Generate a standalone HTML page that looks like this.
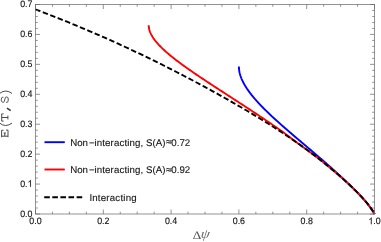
<!DOCTYPE html>
<html><head><meta charset="utf-8"><style>
html,body{margin:0;padding:0;background:#fff;}
svg{display:block;font-family:"Liberation Sans",sans-serif;}
.tx{will-change:opacity;opacity:0.999;text-rendering:geometricPrecision;}
</style></head><body>
<svg width="381" height="242" viewBox="0 0 381 242">
<rect width="381" height="242" fill="#fff"/>
<g fill="none" stroke-linejoin="round">
<path d="M238.90,66.50 L238.90,66.87 L238.91,67.24 L238.92,67.61 L238.94,67.98 L238.97,68.35 L238.99,68.72 L239.03,69.09 L239.07,69.45 L239.11,69.82 L239.16,70.19 L239.21,70.56 L239.27,70.93 L239.33,71.30 L239.40,71.67 L239.47,72.04 L239.55,72.41 L239.63,72.78 L239.72,73.15 L239.81,73.52 L239.91,73.89 L240.01,74.26 L240.11,74.62 L240.22,74.99 L240.33,75.36 L240.45,75.73 L240.57,76.10 L240.70,76.47 L240.83,76.84 L240.96,77.21 L241.10,77.58 L241.25,77.95 L241.39,78.32 L241.54,78.69 L241.70,79.06 L241.86,79.43 L242.02,79.79 L242.18,80.16 L242.35,80.53 L242.53,80.90 L242.71,81.27 L242.89,81.64 L243.07,82.01 L243.26,82.38 L243.45,82.75 L243.65,83.12 L243.85,83.49 L244.05,83.86 L244.26,84.23 L244.47,84.60 L244.68,84.96 L244.90,85.33 L245.11,85.70 L245.34,86.07 L245.56,86.44 L245.79,86.81 L246.03,87.18 L246.26,87.55 L246.50,87.92 L246.74,88.29 L246.99,88.66 L247.23,89.03 L247.49,89.40 L247.74,89.77 L248.00,90.14 L248.26,90.50 L248.52,90.87 L248.78,91.24 L249.05,91.61 L249.32,91.98 L249.60,92.35 L249.87,92.72 L250.15,93.09 L250.43,93.46 L250.72,93.83 L251.01,94.20 L251.30,94.57 L251.59,94.94 L251.88,95.31 L252.18,95.67 L252.48,96.04 L252.78,96.41 L253.08,96.78 L253.39,97.15 L253.70,97.52 L254.01,97.89 L254.32,98.26 L254.64,98.63 L254.96,99.00 L255.28,99.37 L255.60,99.74 L255.93,100.11 L256.25,100.48 L256.58,100.84 L256.91,101.21 L257.25,101.58 L257.58,101.95 L257.92,102.32 L258.26,102.69 L258.60,103.06 L258.94,103.43 L259.28,103.80 L259.63,104.17 L259.98,104.54 L260.33,104.91 L260.68,105.28 L261.04,105.65 L261.39,106.02 L261.75,106.38 L262.11,106.75 L262.47,107.12 L262.83,107.49 L263.19,107.86 L263.56,108.23 L263.93,108.60 L264.29,108.97 L264.67,109.34 L265.04,109.71 L265.41,110.08 L265.78,110.45 L266.16,110.82 L266.54,111.19 L266.92,111.55 L267.30,111.92 L267.68,112.29 L268.06,112.66 L268.45,113.03 L268.83,113.40 L269.22,113.77 L269.61,114.14 L270.00,114.51 L270.39,114.88 L270.78,115.25 L271.17,115.62 L271.57,115.99 L271.96,116.36 L272.36,116.72 L272.76,117.09 L273.16,117.46 L273.56,117.83 L273.96,118.20 L274.36,118.57 L274.76,118.94 L275.17,119.31 L275.57,119.68 L275.98,120.05 L276.38,120.42 L276.79,120.79 L277.20,121.16 L277.61,121.53 L278.02,121.89 L278.43,122.26 L278.84,122.63 L279.26,123.00 L279.67,123.37 L280.09,123.74 L280.50,124.11 L280.92,124.48 L281.33,124.85 L281.75,125.22 L282.17,125.59 L282.59,125.96 L283.01,126.33 L283.43,126.70 L283.85,127.07 L284.27,127.43 L284.69,127.80 L285.12,128.17 L285.54,128.54 L285.96,128.91 L286.39,129.28 L286.81,129.65 L287.24,130.02 L287.66,130.39 L288.09,130.76 L288.52,131.13 L288.95,131.50 L289.37,131.87 L289.80,132.24 L290.23,132.60 L290.66,132.97 L291.09,133.34 L291.52,133.71 L291.95,134.08 L292.38,134.45 L292.81,134.82 L293.24,135.19 L293.67,135.56 L294.11,135.93 L294.54,136.30 L294.97,136.67 L295.40,137.04 L295.84,137.41 L296.27,137.77 L296.70,138.14 L297.14,138.51 L297.57,138.88 L298.00,139.25 L298.44,139.62 L298.87,139.99 L299.31,140.36 L299.74,140.73 L300.18,141.10 L300.61,141.47 L301.04,141.84 L301.48,142.21 L301.91,142.58 L302.35,142.94 L302.78,143.31 L303.22,143.68 L303.65,144.05 L304.09,144.42 L304.53,144.79 L304.96,145.16 L305.40,145.53 L305.83,145.90 L306.27,146.27 L306.70,146.64 L307.14,147.01 L307.57,147.38 L308.01,147.75 L308.44,148.12 L308.87,148.48 L309.31,148.85 L309.74,149.22 L310.18,149.59 L310.61,149.96 L311.05,150.33 L311.48,150.70 L311.91,151.07 L312.35,151.44 L312.78,151.81 L313.21,152.18 L313.65,152.55 L314.08,152.92 L314.51,153.29 L314.94,153.65 L315.37,154.02 L315.81,154.39 L316.24,154.76 L316.67,155.13 L317.10,155.50 L317.53,155.87 L317.96,156.24 L318.39,156.61 L318.82,156.98 L319.25,157.35 L319.68,157.72 L320.10,158.09 L320.53,158.46 L320.96,158.82 L321.39,159.19 L321.81,159.56 L322.24,159.93 L322.67,160.30 L323.09,160.67 L323.52,161.04 L323.94,161.41 L324.37,161.78 L324.79,162.15 L325.21,162.52 L325.64,162.89 L326.06,163.26 L326.48,163.63 L326.90,163.99 L327.32,164.36 L327.74,164.73 L328.16,165.10 L328.58,165.47 L329.00,165.84 L329.42,166.21 L329.84,166.58 L330.25,166.95 L330.67,167.32 L331.09,167.69 L331.50,168.06 L331.92,168.43 L332.33,168.80 L332.74,169.17 L333.16,169.53 L333.57,169.90 L333.98,170.27 L334.39,170.64 L334.80,171.01 L335.21,171.38 L335.61,171.75 L336.02,172.12 L336.42,172.49 L336.83,172.86 L337.23,173.23 L337.63,173.60 L338.03,173.97 L338.43,174.34 L338.83,174.70 L339.23,175.07 L339.63,175.44 L340.03,175.81 L340.43,176.18 L340.82,176.55 L341.22,176.92 L341.61,177.29 L342.01,177.66 L342.40,178.03 L342.79,178.40 L343.19,178.77 L343.58,179.14 L343.97,179.51 L344.36,179.87 L344.76,180.24 L345.15,180.61 L345.54,180.98 L345.93,181.35 L346.31,181.72 L346.70,182.09 L347.09,182.46 L347.48,182.83 L347.86,183.20 L348.25,183.57 L348.64,183.94 L349.03,184.31 L349.41,184.68 L349.79,185.05 L350.17,185.41 L350.56,185.78 L350.94,186.15 L351.32,186.52 L351.70,186.89 L352.08,187.26 L352.46,187.63 L352.84,188.00 L353.21,188.37 L353.59,188.74 L353.96,189.11 L354.33,189.48 L354.70,189.85 L355.08,190.22 L355.45,190.58 L355.82,190.95 L356.18,191.32 L356.54,191.69 L356.91,192.06 L357.27,192.43 L357.63,192.80 L358.00,193.17 L358.35,193.54 L358.71,193.91 L359.06,194.28 L359.41,194.65 L359.77,195.02 L360.12,195.39 L360.47,195.75 L360.81,196.12 L361.16,196.49 L361.50,196.86 L361.84,197.23 L362.19,197.60 L362.52,197.97 L362.86,198.34 L363.19,198.71 L363.53,199.08 L363.86,199.45 L364.19,199.82 L364.51,200.19 L364.84,200.56 L365.16,200.92 L365.48,201.29 L365.79,201.66 L366.10,202.03 L366.42,202.40 L366.72,202.77 L367.02,203.14 L367.32,203.51 L367.62,203.88 L367.91,204.25 L368.20,204.62 L368.49,204.99 L368.78,205.36 L369.06,205.73 L369.34,206.10 L369.62,206.46 L369.89,206.83 L370.16,207.20 L370.43,207.57 L370.70,207.94 L370.96,208.31 L371.22,208.68 L371.48,209.05 L371.73,209.42 L371.98,209.79 L372.23,210.16 L372.48,210.53 L372.72,210.90 L372.95,211.27 L373.18,211.63 L373.41,212.00 L373.63,212.37 L373.85,212.74 L374.06,213.11 L374.50,214.00" stroke="#0000ff" stroke-width="1.9"/>
<path d="M148.70,25.20 L148.71,25.67 L148.73,26.15 L148.76,26.62 L148.81,27.09 L148.87,27.56 L148.95,28.04 L149.04,28.51 L149.14,28.98 L149.25,29.46 L149.38,29.93 L149.52,30.40 L149.67,30.87 L149.83,31.35 L150.01,31.82 L150.20,32.29 L150.39,32.76 L150.60,33.24 L150.82,33.71 L151.06,34.18 L151.30,34.66 L151.55,35.13 L151.81,35.60 L152.09,36.07 L152.37,36.55 L152.66,37.02 L152.97,37.49 L153.28,37.97 L153.60,38.44 L153.93,38.91 L154.27,39.38 L154.62,39.86 L154.98,40.33 L155.35,40.80 L155.72,41.28 L156.11,41.75 L156.50,42.22 L156.90,42.69 L157.31,43.17 L157.73,43.64 L158.15,44.11 L158.58,44.59 L159.02,45.06 L159.47,45.53 L159.92,46.00 L160.38,46.48 L160.85,46.95 L161.32,47.42 L161.80,47.89 L162.29,48.37 L162.78,48.84 L163.28,49.31 L163.79,49.79 L164.30,50.26 L164.82,50.73 L165.34,51.20 L165.87,51.68 L166.41,52.15 L166.95,52.62 L167.49,53.10 L168.04,53.57 L168.60,54.04 L169.16,54.51 L169.73,54.99 L170.30,55.46 L170.87,55.93 L171.45,56.41 L172.04,56.88 L172.63,57.35 L173.22,57.82 L173.82,58.30 L174.42,58.77 L175.03,59.24 L175.64,59.71 L176.25,60.19 L176.87,60.66 L177.49,61.13 L178.12,61.61 L178.74,62.08 L179.38,62.55 L180.01,63.02 L180.65,63.50 L181.29,63.97 L181.94,64.44 L182.59,64.92 L183.24,65.39 L183.89,65.86 L184.55,66.33 L185.21,66.81 L185.87,67.28 L186.54,67.75 L187.21,68.23 L187.88,68.70 L188.55,69.17 L189.22,69.64 L189.90,70.12 L190.58,70.59 L191.26,71.06 L191.95,71.54 L192.63,72.01 L193.32,72.48 L194.01,72.95 L194.70,73.43 L195.40,73.90 L196.09,74.37 L196.79,74.84 L197.49,75.32 L198.19,75.79 L198.89,76.26 L199.59,76.74 L200.30,77.21 L201.01,77.68 L201.71,78.15 L202.42,78.63 L203.13,79.10 L203.84,79.57 L204.56,80.05 L205.27,80.52 L205.99,80.99 L206.70,81.46 L207.42,81.94 L208.14,82.41 L208.85,82.88 L209.57,83.36 L210.29,83.83 L211.01,84.30 L211.74,84.77 L212.46,85.25 L213.18,85.72 L213.91,86.19 L214.63,86.67 L215.35,87.14 L216.08,87.61 L216.81,88.08 L217.53,88.56 L218.26,89.03 L218.99,89.50 L219.71,89.97 L220.44,90.45 L221.17,90.92 L221.90,91.39 L222.62,91.87 L223.35,92.34 L224.08,92.81 L224.81,93.28 L225.54,93.76 L226.27,94.23 L227.00,94.70 L227.73,95.18 L228.46,95.65 L229.18,96.12 L229.91,96.59 L230.64,97.07 L231.37,97.54 L232.10,98.01 L232.83,98.49 L233.56,98.96 L234.28,99.43 L235.01,99.90 L235.74,100.38 L236.47,100.85 L237.19,101.32 L237.92,101.79 L238.65,102.27 L239.37,102.74 L240.10,103.21 L240.82,103.69 L241.55,104.16 L242.27,104.63 L242.99,105.10 L243.72,105.58 L244.44,106.05 L245.16,106.52 L245.88,107.00 L246.61,107.47 L247.33,107.94 L248.05,108.41 L248.77,108.89 L249.48,109.36 L250.20,109.83 L250.92,110.31 L251.64,110.78 L252.35,111.25 L253.07,111.72 L253.78,112.20 L254.50,112.67 L255.21,113.14 L255.92,113.62 L256.63,114.09 L257.35,114.56 L258.06,115.03 L258.77,115.51 L259.47,115.98 L260.18,116.45 L260.89,116.92 L261.59,117.40 L262.30,117.87 L263.00,118.34 L263.71,118.82 L264.41,119.29 L265.11,119.76 L265.81,120.23 L266.51,120.71 L267.21,121.18 L267.91,121.65 L268.61,122.13 L269.30,122.60 L270.00,123.07 L270.69,123.54 L271.38,124.02 L272.08,124.49 L272.77,124.96 L273.46,125.44 L274.14,125.91 L274.83,126.38 L275.52,126.85 L276.20,127.33 L276.89,127.80 L277.57,128.27 L278.26,128.74 L278.94,129.22 L279.62,129.69 L280.30,130.16 L280.97,130.64 L281.63,131.11 L282.29,131.58 L282.94,132.05 L283.58,132.53 L284.22,133.00 L284.86,133.47 L285.49,133.95 L286.12,134.42 L286.75,134.89 L287.37,135.36 L288.00,135.84 L288.62,136.31 L289.24,136.78 L289.87,137.26 L290.49,137.73 L291.11,138.20 L291.74,138.67 L292.36,139.15 L292.99,139.62 L293.62,140.09 L294.25,140.57 L294.88,141.04 L295.51,141.51 L296.15,141.98 L296.78,142.46 L297.42,142.93 L298.06,143.40 L298.71,143.87 L299.35,144.35 L300.00,144.82 L300.65,145.29 L301.30,145.77 L301.95,146.24 L302.60,146.71 L303.26,147.18 L303.91,147.66 L304.57,148.13 L305.22,148.60 L305.87,149.08 L306.52,149.55 L307.18,150.02 L307.82,150.49 L308.46,150.97 L309.11,151.44 L309.75,151.91 L310.39,152.39 L311.02,152.86 L311.66,153.33 L312.29,153.80 L312.92,154.28 L313.54,154.75 L314.17,155.22 L314.80,155.69 L315.42,156.17 L316.03,156.64 L316.65,157.11 L317.27,157.59 L317.88,158.06 L318.49,158.53 L319.09,159.00 L319.70,159.48 L320.31,159.95 L320.91,160.42 L321.51,160.90 L322.11,161.37 L322.70,161.84 L323.30,162.31 L323.89,162.79 L324.48,163.26 L325.07,163.73 L325.66,164.21 L326.24,164.68 L326.83,165.15 L327.41,165.62 L327.99,166.10 L328.57,166.57 L329.15,167.04 L329.73,167.52 L330.30,167.99 L330.87,168.46 L331.44,168.93 L332.01,169.41 L332.58,169.88 L333.14,170.35 L333.70,170.82 L334.26,171.30 L334.82,171.77 L335.39,172.24 L335.94,172.72 L336.49,173.19 L337.04,173.66 L337.60,174.13 L338.15,174.61 L338.69,175.08 L339.23,175.55 L339.78,176.03 L340.32,176.50 L340.86,176.97 L341.39,177.44 L341.92,177.92 L342.45,178.39 L342.98,178.86 L343.51,179.34 L344.04,179.81 L344.57,180.28 L345.10,180.75 L345.62,181.23 L346.13,181.70 L346.65,182.17 L347.16,182.65 L347.67,183.12 L348.19,183.59 L348.70,184.06 L349.22,184.54 L349.71,185.01 L350.21,185.48 L350.71,185.95 L351.21,186.43 L351.70,186.90 L352.20,187.37 L352.70,187.85 L353.18,188.32 L353.66,188.79 L354.14,189.26 L354.62,189.74 L355.10,190.21 L355.58,190.68 L356.04,191.16 L356.51,191.63 L356.97,192.10 L357.44,192.57 L357.90,193.05 L358.36,193.52 L358.81,193.99 L359.26,194.47 L359.71,194.94 L360.17,195.41 L360.61,195.88 L361.05,196.36 L361.48,196.83 L361.92,197.30 L362.36,197.77 L362.78,198.25 L363.21,198.72 L363.64,199.19 L364.06,199.67 L364.47,200.14 L364.89,200.61 L365.30,201.08 L365.70,201.56 L366.10,202.03 L366.50,202.50 L366.89,202.98 L367.27,203.45 L367.66,203.92 L368.03,204.39 L368.40,204.87 L368.77,205.34 L369.13,205.81 L369.48,206.29 L369.84,206.76 L370.18,207.23 L370.53,207.70 L370.87,208.18 L371.20,208.65 L371.53,209.12 L371.85,209.60 L372.17,210.07 L372.48,210.54 L372.79,211.01 L373.09,211.49 L373.38,211.96 L374.50,214.00" stroke="#ff0000" stroke-width="1.9"/>
<path d="M35.30,9.36 L38.06,10.34 L40.63,11.32 L43.19,12.31 L45.76,13.30 L48.32,14.30 L50.88,15.30 L53.45,16.31 L56.01,17.33 L58.57,18.35 L61.14,19.38 L63.70,20.41 L66.27,21.45 L68.83,22.49 L71.39,23.54 L73.96,24.60 L76.52,25.66 L79.09,26.73 L81.65,27.80 L84.21,28.88 L86.78,29.96 L89.34,31.05 L91.91,32.15 L94.47,33.25 L97.03,34.35 L99.60,35.47 L102.16,36.59 L104.72,37.71 L107.29,38.85 L109.85,39.99 L112.42,41.14 L114.98,42.30 L117.54,43.46 L120.11,44.63 L122.67,45.80 L125.24,46.99 L127.80,48.18 L130.36,49.37 L132.93,50.57 L135.49,51.78 L138.05,52.99 L140.62,54.21 L143.18,55.43 L145.75,56.67 L148.31,57.91 L150.87,59.15 L153.44,60.41 L156.00,61.67 L158.57,62.93 L161.13,64.21 L163.69,65.49 L166.26,66.78 L168.82,68.07 L171.38,69.37 L173.95,70.68 L176.51,72.00 L179.08,73.32 L181.64,74.64 L184.20,75.98 L186.77,77.32 L189.33,78.66 L191.90,80.01 L194.46,81.37 L197.02,82.74 L199.59,84.11 L202.15,85.48 L204.72,86.87 L207.28,88.26 L209.84,89.66 L212.41,91.06 L214.97,92.47 L217.53,93.90 L220.10,95.33 L222.66,96.76 L225.23,98.21 L227.79,99.67 L230.35,101.13 L232.92,102.60 L235.48,104.08 L238.05,105.56 L240.61,107.04 L243.17,108.54 L245.74,110.04 L248.30,111.55 L250.86,113.07 L253.43,114.60 L255.99,116.14 L258.56,117.70 L261.12,119.28 L263.68,120.86 L266.25,122.46 L268.81,124.07 L271.38,125.69 L273.94,127.32 L276.50,128.97 L279.07,130.64 L281.63,132.32 L284.19,134.02 L286.76,135.73 L289.32,137.47 L291.89,139.22 L294.45,140.99 L297.01,142.77 L299.58,144.57 L302.14,146.39 L304.71,148.23 L307.27,150.09 L309.83,151.97 L312.40,153.88 L314.96,155.82 L317.53,157.78 L320.09,159.78 L322.65,161.80 L325.22,163.85 L327.78,165.92 L330.34,168.02 L332.91,170.15 L335.47,172.32 L338.04,174.51 L340.60,176.74 L345.20,180.84 L349.17,184.49 L352.61,187.76 L355.58,190.68 L358.14,193.29 L360.36,195.62 L362.28,197.69 L363.93,199.53 L365.37,201.16 L366.61,202.63 L367.68,203.95 L368.60,205.13 L369.40,206.17 L370.09,207.11 L370.69,207.93 L371.21,208.66 L371.65,209.30 L372.04,209.87 L372.37,210.37 L372.66,210.81 L372.91,211.20 L373.13,211.54 L373.31,211.84 L373.47,212.11 L373.61,212.34 L373.73,212.54 L373.84,212.72 L373.93,212.88 L374.00,213.02 L374.07,213.14 L374.13,213.25 L374.18,213.34 L374.22,213.42 L374.26,213.49 L374.29,213.56 L374.32,213.61 L374.35,213.66 L374.37,213.70 L374.38,213.74 L374.40,213.77 L374.41,213.80 L374.43,213.83 L374.44,213.85 L374.44,213.87 L374.45,213.88 L374.46,213.90 L374.46,213.91 L374.47,213.92 L374.47,213.93 L374.48,213.94 L374.48,213.95 L374.48,213.95 L374.49,213.96 L374.49,213.97 L374.49,213.97 L374.49,213.97 L374.49,213.98 L374.49,213.98 L374.49,213.98 L374.49,213.98 L374.50,213.99 L374.50,213.99 L374.50,213.99 L374.50,213.99 L374.50,213.99 L374.50,213.99 L374.50,213.99 L374.50,213.99 L374.50,214.00 L374.50,214.00 L374.50,214.00 L374.50,214.00 L374.50,214.00 L374.50,214.00 L374.50,214.00 L374.50,214.00 L374.50,214.00 L374.50,214.00 L374.50,214.00 L374.50,214.00" stroke="#000" stroke-width="1.9" stroke-dasharray="5.42 2.585"/>
</g>
<g stroke="#666" stroke-width="0.7" fill="none">
<rect x="35.5" y="4.5" width="339.0" height="209.50"/>
<path d="M35.50,214.0 v-4.5 M35.50,4.5 v4.5"/>
<path d="M52.45,214.0 v-2.3 M52.45,4.5 v2.3"/>
<path d="M69.40,214.0 v-2.3 M69.40,4.5 v2.3"/>
<path d="M86.35,214.0 v-2.3 M86.35,4.5 v2.3"/>
<path d="M103.30,214.0 v-4.5 M103.30,4.5 v4.5"/>
<path d="M120.25,214.0 v-2.3 M120.25,4.5 v2.3"/>
<path d="M137.20,214.0 v-2.3 M137.20,4.5 v2.3"/>
<path d="M154.15,214.0 v-2.3 M154.15,4.5 v2.3"/>
<path d="M171.10,214.0 v-4.5 M171.10,4.5 v4.5"/>
<path d="M188.05,214.0 v-2.3 M188.05,4.5 v2.3"/>
<path d="M205.00,214.0 v-2.3 M205.00,4.5 v2.3"/>
<path d="M221.95,214.0 v-2.3 M221.95,4.5 v2.3"/>
<path d="M238.90,214.0 v-4.5 M238.90,4.5 v4.5"/>
<path d="M255.85,214.0 v-2.3 M255.85,4.5 v2.3"/>
<path d="M272.80,214.0 v-2.3 M272.80,4.5 v2.3"/>
<path d="M289.75,214.0 v-2.3 M289.75,4.5 v2.3"/>
<path d="M306.70,214.0 v-4.5 M306.70,4.5 v4.5"/>
<path d="M323.65,214.0 v-2.3 M323.65,4.5 v2.3"/>
<path d="M340.60,214.0 v-2.3 M340.60,4.5 v2.3"/>
<path d="M357.55,214.0 v-2.3 M357.55,4.5 v2.3"/>
<path d="M374.50,214.0 v-4.5 M374.50,4.5 v4.5"/>
<path d="M35.5,214.00 h4.5 M374.5,214.00 h-4.5"/>
<path d="M35.5,208.01 h2.3 M374.5,208.01 h-2.3"/>
<path d="M35.5,202.03 h2.3 M374.5,202.03 h-2.3"/>
<path d="M35.5,196.04 h2.3 M374.5,196.04 h-2.3"/>
<path d="M35.5,190.06 h2.3 M374.5,190.06 h-2.3"/>
<path d="M35.5,184.07 h4.5 M374.5,184.07 h-4.5"/>
<path d="M35.5,178.09 h2.3 M374.5,178.09 h-2.3"/>
<path d="M35.5,172.10 h2.3 M374.5,172.10 h-2.3"/>
<path d="M35.5,166.11 h2.3 M374.5,166.11 h-2.3"/>
<path d="M35.5,160.13 h2.3 M374.5,160.13 h-2.3"/>
<path d="M35.5,154.14 h4.5 M374.5,154.14 h-4.5"/>
<path d="M35.5,148.16 h2.3 M374.5,148.16 h-2.3"/>
<path d="M35.5,142.17 h2.3 M374.5,142.17 h-2.3"/>
<path d="M35.5,136.19 h2.3 M374.5,136.19 h-2.3"/>
<path d="M35.5,130.20 h2.3 M374.5,130.20 h-2.3"/>
<path d="M35.5,124.21 h4.5 M374.5,124.21 h-4.5"/>
<path d="M35.5,118.23 h2.3 M374.5,118.23 h-2.3"/>
<path d="M35.5,112.24 h2.3 M374.5,112.24 h-2.3"/>
<path d="M35.5,106.26 h2.3 M374.5,106.26 h-2.3"/>
<path d="M35.5,100.27 h2.3 M374.5,100.27 h-2.3"/>
<path d="M35.5,94.29 h4.5 M374.5,94.29 h-4.5"/>
<path d="M35.5,88.30 h2.3 M374.5,88.30 h-2.3"/>
<path d="M35.5,82.31 h2.3 M374.5,82.31 h-2.3"/>
<path d="M35.5,76.33 h2.3 M374.5,76.33 h-2.3"/>
<path d="M35.5,70.34 h2.3 M374.5,70.34 h-2.3"/>
<path d="M35.5,64.36 h4.5 M374.5,64.36 h-4.5"/>
<path d="M35.5,58.37 h2.3 M374.5,58.37 h-2.3"/>
<path d="M35.5,52.39 h2.3 M374.5,52.39 h-2.3"/>
<path d="M35.5,46.40 h2.3 M374.5,46.40 h-2.3"/>
<path d="M35.5,40.41 h2.3 M374.5,40.41 h-2.3"/>
<path d="M35.5,34.43 h4.5 M374.5,34.43 h-4.5"/>
<path d="M35.5,28.44 h2.3 M374.5,28.44 h-2.3"/>
<path d="M35.5,22.46 h2.3 M374.5,22.46 h-2.3"/>
<path d="M35.5,16.47 h2.3 M374.5,16.47 h-2.3"/>
<path d="M35.5,10.49 h2.3 M374.5,10.49 h-2.3"/>
<path d="M35.5,4.50 h4.5 M374.5,4.50 h-4.5"/>
</g>
<g class="tx" font-size="9.3px" fill="#151515" stroke="#151515" stroke-width="0.15">
<text transform="translate(35.50,224.2) scale(0.95,1)" text-anchor="middle">0.0</text>
<text transform="translate(103.30,224.2) scale(0.95,1)" text-anchor="middle">0.2</text>
<text transform="translate(171.10,224.2) scale(0.95,1)" text-anchor="middle">0.4</text>
<text transform="translate(238.90,224.2) scale(0.95,1)" text-anchor="middle">0.6</text>
<text transform="translate(306.70,224.2) scale(0.95,1)" text-anchor="middle">0.8</text>
<path transform="translate(368.36,224.20) scale(0.004314,-0.004541)" d="M763,0 H583 V1147 Q518,1085 412.5,1023 Q307,961 223,930 V1104 Q374,1175 487,1276 Q600,1377 647,1472 H763 Z" stroke-width="30"/>
<text transform="translate(373.27,224.2) scale(0.95,1)">.0</text>
<text transform="translate(32.45,216.80) scale(0.95,1)" text-anchor="end">0.0</text>
<text transform="translate(20.17,186.67) scale(0.95,1)">0.</text>
<path transform="translate(27.54,186.67) scale(0.004314,-0.004541)" d="M763,0 H583 V1147 Q518,1085 412.5,1023 Q307,961 223,930 V1104 Q374,1175 487,1276 Q600,1377 647,1472 H763 Z" stroke-width="30"/>
<text transform="translate(32.45,156.54) scale(0.95,1)" text-anchor="end">0.2</text>
<text transform="translate(32.45,126.51) scale(0.95,1)" text-anchor="end">0.3</text>
<text transform="translate(32.45,96.59) scale(0.95,1)" text-anchor="end">0.4</text>
<text transform="translate(32.45,66.66) scale(0.95,1)" text-anchor="end">0.5</text>
<text transform="translate(32.45,36.73) scale(0.95,1)" text-anchor="end">0.6</text>
<text transform="translate(32.45,6.80) scale(0.95,1)" text-anchor="end">0.7</text>
</g>
<g fill="none" stroke-width="1.9">
<path d="M44.5,142.2 H64.8" stroke="#0000ff"/>
<path d="M44.5,169.5 H64.8" stroke="#ff0000"/>
<path d="M44.2,197.2 H82.2" stroke="#000" stroke-width="1.9" stroke-dasharray="5.6 2.5"/>
</g>
<g class="tx" font-size="9.7px" fill="#151515" stroke="#151515" stroke-width="0.12">
<text transform="translate(70.2,145.8) scale(1,1)">Non</text>
<text transform="translate(88.9,145.8) scale(1,1)">−</text>
<text x="94.4" y="145.8" textLength="48.9" lengthAdjust="spacing">interacting,</text>
<text transform="translate(146.0,145.8) scale(1,1)">S(A)</text>
<text x="166.2" y="145.20000000000002" stroke="#1a1a1a" stroke-width="0.3">≈</text>
<text transform="translate(171.3,145.8) scale(1,1)">0.72</text>
<text transform="translate(70.2,173.1) scale(1,1)">Non</text>
<text transform="translate(88.9,173.1) scale(1,1)">−</text>
<text x="94.4" y="173.1" textLength="48.9" lengthAdjust="spacing">interacting,</text>
<text transform="translate(146.0,173.1) scale(1,1)">S(A)</text>
<text x="166.2" y="172.5" stroke="#1a1a1a" stroke-width="0.3">≈</text>
<text transform="translate(171.3,173.1) scale(1,1)">0.92</text>
<text x="89.4" y="201.1" textLength="47.2" lengthAdjust="spacing">Interacting</text>
</g>
<g class="tx" fill="#555">
<text transform="translate(192.8,238.5) scale(1.15,1)" font-size="11.5px" font-family="Liberation Serif">Δ</text>
<text transform="translate(200.4,237.7) scale(1.08,1) skewX(-7)" fill="#626262" font-size="13px" font-family="Liberation Serif" font-style="italic">ψ</text>
<g fill="none" stroke="#383838" stroke-width="0.9"><path transform="translate(7.9,133.6) rotate(-90)" d="M-3.6,0.1 H3.5 V-1.9 M-3.6,-6.3 H3.3 V-4.4 M-2.6,0.1 V-6.3 M-2.6,-3.1 H0.6 M0.6,-4.2 V-2.0" />
<path transform="translate(7.9,124.3) rotate(-90)" d="M1.2,-8.3 Q-3.6,-2.1 1.2,4.1" />
<path transform="translate(7.9,117.5) rotate(-90)" d="M-3.6,-4.3 V-6.2 H3.6 V-4.3 M0,-6.2 V0 M-1.9,0 H1.9" />
<path transform="translate(7.9,109.2) rotate(-90)" d="M1.0,-0.9 L-1.4,2.8" stroke-width="1.5" stroke="#333"/>
<path transform="translate(7.9,99.7) rotate(-90)" d="M2.4,-4.6 V-5.8 C1.6,-6.6 -0.5,-6.9 -1.6,-6.4 C-2.8,-5.9 -2.9,-4.3 -2.0,-3.7 C-1.0,-3.0 1.2,-3.3 2.1,-2.6 C3.1,-1.9 3.0,-0.4 1.8,0.1 C0.6,0.6 -1.6,0.4 -2.6,-0.5 V-1.8" />
<path transform="translate(7.9,92.25) rotate(-90)" d="M-1.2,-8.3 Q3.6,-2.1 -1.2,4.1" /></g>
</g>
</svg>
</body></html>
